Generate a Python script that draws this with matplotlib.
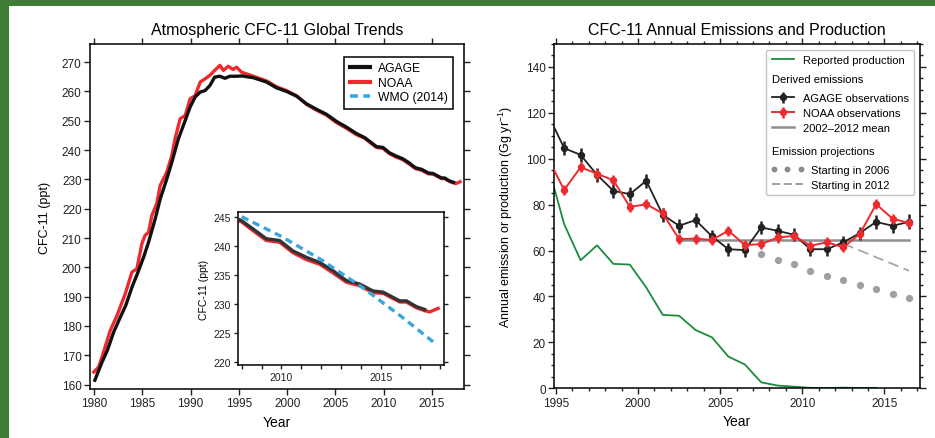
import numpy as np
import matplotlib.pyplot as plt
from matplotlib.lines import Line2D
from matplotlib.patches import Rectangle
from matplotlib.legend_handler import HandlerLine2D
from matplotlib.ticker import MultipleLocator

plt.rcParams['font.family'] = ['Liberation Sans', 'DejaVu Sans']
plt.rcParams['mathtext.fontset'] = 'custom'
plt.rcParams['mathtext.rm'] = 'Liberation Sans'
plt.rcParams['mathtext.default'] = 'regular'

# ---- left panel: global mean CFC-11 mole fraction (ppt) ----
agage_year = [1980.1, 1980.85, 1981.4, 1982.06, 1982.75, 1983.3, 1983.95, 1984.57,
              1985.15, 1985.66, 1986.35, 1986.87, 1987.55, 1988.07, 1988.75, 1989.45,
              1989.96, 1990.48, 1991.0, 1991.5, 1992.0, 1992.5, 1993.05, 1993.56,
              1994.08, 1994.76, 1995.3, 1996.5, 1997.88, 1998.9, 1999.95, 2000.98,
              2002.0, 2003.05, 2004.08, 2005.1, 2006.16, 2007.2, 2008.0, 2008.57,
              2009.24, 2009.91, 2010.58, 2011.26, 2011.93, 2012.6, 2012.94, 2013.27,
              2013.94, 2014.61, 2015.12, 2015.62, 2015.96, 2016.29, 2016.8, 2017.22]
agage_ppt = [161.5, 167.7, 171.7, 178.0, 183.1, 187.0, 193.3, 198.4,
             203.5, 208.6, 216.6, 223.4, 230.2, 235.9, 243.9, 250.1,
             254.7, 258.1, 259.8, 260.3, 262.0, 264.9, 265.2, 264.5,
             265.2, 265.2, 265.3, 264.7, 263.2, 261.25, 260.0, 258.4,
             255.8, 253.9, 252.2, 249.8, 247.8, 245.6, 244.3, 242.9,
             241.2, 240.9, 239.1, 238.0, 237.1, 235.7, 234.8, 234.0,
             233.4, 232.2, 232.0, 231.1, 230.5, 230.5, 229.5, 229.0]

noaa_year = [1980.0, 1980.5, 1981.0, 1981.7, 1982.4, 1983.25, 1983.94, 1984.45,
             1984.97, 1985.3, 1985.66, 1986.0, 1986.5, 1986.87, 1987.55, 1988.07,
             1988.4, 1988.93, 1989.45, 1989.96, 1990.48, 1991.0, 1991.5, 1992.0,
             1992.5, 1993.05, 1993.4, 1993.9, 1994.4, 1994.76, 1995.27, 1996.5,
             1997.88, 1998.9, 1999.95, 2000.98, 2002.0, 2003.05, 2004.08, 2005.1,
             2006.16, 2007.2, 2008.0, 2008.57, 2009.24, 2009.91, 2010.58, 2011.26,
             2011.93, 2012.6, 2012.94, 2013.27, 2013.94, 2014.61, 2015.12, 2015.62,
             2015.96, 2016.29, 2016.8, 2017.22, 2017.47, 2017.89]
noaa_ppt = [164.3, 166.0, 171.1, 178.5, 183.6, 191.0, 198.4, 199.5,
            208.1, 210.9, 212.0, 217.7, 221.7, 228.0, 232.5, 238.2,
            243.9, 250.7, 251.8, 257.5, 258.6, 263.2, 264.3, 265.5,
            267.2, 268.9, 267.2, 268.6, 267.5, 268.3, 266.6, 265.2,
            263.6, 261.6, 260.3, 258.5, 255.6, 253.6, 251.9, 249.4,
            247.4, 245.2, 244.1, 242.6, 240.9, 240.6, 238.8, 237.6,
            236.8, 235.3, 234.5, 233.7, 233.1, 231.9, 231.8, 230.9,
            230.3, 230.3, 229.3, 228.8, 228.6, 229.2]

wmo_year = [2008.0, 2010.0, 2012.0, 2014.0, 2016.0, 2017.8]
wmo_ppt = [245.0, 241.6, 237.6, 233.0, 227.9, 223.0]

# ---- right panel: emissions and production (Gg/yr) ----
emis_year = [1994.5 + i for i in range(23)]
agage_emis = [119.5, 104.6, 101.7, 93.0, 86.0, 84.6, 90.4, 75.6, 70.8, 73.3, 66.2, 60.6,
              60.2, 70.1, 68.6, 66.9, 60.6, 60.6, 63.6, 67.6, 72.5, 70.8, 72.5]
agage_err = [3.0, 3.0, 3.0, 3.0, 3.0, 3.0, 3.0, 3.0, 3.0, 3.0, 2.8, 2.8,
             2.8, 2.8, 2.8, 2.8, 2.8, 2.8, 2.8, 2.8, 3.2, 3.2, 3.3]
noaa_emis = [100.5, 86.4, 96.3, 93.5, 90.6, 79.0, 80.2, 76.2, 65.0, 65.2, 64.6, 68.7,
             62.4, 62.8, 65.7, 66.4, 62.1, 63.6, 61.4, 67.2, 80.2, 73.9, 72.0]
noaa_err = [2.2] * 23

prod_year = [1994.5 + i for i in range(21)]
prod_gg = [97.4, 71.5, 55.8, 62.3, 54.2, 53.9, 43.9, 32.0, 31.6, 25.4, 22.2, 13.8,
           10.4, 2.6, 1.2, 0.7, 0.2, 0.1, 0.3, 0.1, 0.2]

mean_years = [2002.5, 2016.5]
mean_value = 64.7

proj2006_year = [2007.5 + i for i in range(10)]
proj2006_gg = [58.5, 56.0, 54.0, 51.3, 49.0, 47.1, 45.0, 43.1, 41.2, 39.5]
proj2012_year = [2012.5, 2016.5]
proj2012_gg = [63.0, 51.2]

W, H = 935, 439
fig = plt.figure(figsize=(W / 100, H / 100), dpi=100)
fig.patch.set_facecolor('#3f7d36')
fig.add_artist(Rectangle((9 / W, 0), 1, (H - 7) / H, transform=fig.transFigure,
                         facecolor='white', edgecolor='none', zorder=-10))


def px_axes(x0, y0, x1, y1):
    return fig.add_axes([x0 / W, 1 - y1 / H, (x1 - x0) / W, (y1 - y0) / H])


def style_axes(ax, lw=1.1):
    for s in ax.spines.values():
        s.set_linewidth(lw)
    ax.tick_params(which='both', direction='out', width=1.0, colors='#222222')


class WideHandler(HandlerLine2D):
    # legend handle drawn a bit longer than the others
    def __init__(self, extra, **kw):
        super().__init__(**kw)
        self.extra = extra

    def create_artists(self, legend, orig_handle, xdescent, ydescent, width, height,
                       fontsize, trans):
        return super().create_artists(legend, orig_handle, xdescent, ydescent,
                                      width + self.extra, height, fontsize, trans)


red = '#ee2a2f'
black = '#111111'

# ---------------- left panel ----------------
ax1 = px_axes(90, 45, 464, 390)
ax1.plot(noaa_year, noaa_ppt, color=red, lw=2.4, zorder=2)
ax1.plot(agage_year, agage_ppt, color=black, lw=2.4, zorder=3)
ax1.set_xlim(1979.6, 2018.3)
ax1.set_ylim(158.5, 276.2)
ax1.xaxis.set_major_locator(MultipleLocator(5))
ax1.yaxis.set_major_locator(MultipleLocator(10))
style_axes(ax1)
ax1.tick_params(top=True, right=True, length=4, labelsize=8.5, pad=2)
ax1.set_xlabel('Year', fontsize=10, labelpad=4)
ax1.set_ylabel('CFC-11 (ppt)', fontsize=9, labelpad=8)
ax1.set_title('Atmospheric CFC-11 Global Trends', fontsize=11.5, pad=7)

# inset
axi = px_axes(237.7, 213.3, 444.3, 365.7)
axi.plot(noaa_year, noaa_ppt, color=red, lw=2.4, zorder=2)
axi.plot(agage_year, agage_ppt, color='#333333', lw=2.4, zorder=3)
axi.plot(wmo_year, wmo_ppt, color='#3aa6dd', lw=2.4, linestyle=(0, (2.2, 1.5)), zorder=4)
axi.set_xlim(2007.8, 2018.2)
axi.set_ylim(219.5, 245.76)
axi.xaxis.set_major_locator(MultipleLocator(5))
axi.xaxis.set_minor_locator(MultipleLocator(1))
axi.yaxis.set_major_locator(MultipleLocator(5))
style_axes(axi)
axi.tick_params(which='both', right=True, length=3, labelsize=7.5, pad=2)
axi.set_ylabel('CFC-11 (ppt)', fontsize=7.5, labelpad=3)

h_agage1 = Line2D([], [], color=black, lw=3, label='AGAGE')
h_noaa1 = Line2D([], [], color=red, lw=3, label='NOAA')
h_wmo1 = Line2D([], [], color='#3aa6dd', lw=2.6, linestyle=(0, (2.2, 1.5)), label='WMO (2014)')
leg1 = ax1.legend(handles=[h_agage1, h_noaa1, h_wmo1], loc='upper right', fontsize=8.7,
                  bbox_to_anchor=(1 - 11 / 374, 1 - 13 / 345), borderaxespad=0,
                  fancybox=False, edgecolor='black', framealpha=1,
                  handlelength=1.7, handletextpad=0.6, borderpad=0.45, labelspacing=0.2)
leg1.get_frame().set_linewidth(1.1)

# ---------------- right panel ----------------
ax2 = px_axes(554, 45, 920, 389.3)
l_prod, = ax2.plot(prod_year, prod_gg, color='#1b8c3e', lw=1.3, zorder=1,
                   label='Reported production')
l_mean, = ax2.plot(mean_years, [mean_value, mean_value], color='#8e8e8e', lw=1.8,
                   zorder=1.5, label='2002\u20132012 mean')
ax2.plot(proj2006_year, proj2006_gg, linestyle='none', marker='o', ms=4.2,
         color='#a0a0a0', zorder=1.5)
ax2.plot(proj2012_year, proj2012_gg, color='#a8a8a8', lw=1.3,
         linestyle=(0, (6, 3)), zorder=1.5)
e_agage = ax2.errorbar(emis_year, agage_emis, yerr=agage_err, color='#222222', lw=1.3,
                       marker='o', ms=4.3, elinewidth=1.8, capsize=0, zorder=3,
                       label='AGAGE observations')
e_noaa = ax2.errorbar(emis_year, noaa_emis, yerr=noaa_err, color=red, lw=1.4,
                      marker='o', ms=4.3, elinewidth=1.8, capsize=0, zorder=4,
                      label='NOAA observations')
ax2.set_xlim(1994.88, 2017.17)
ax2.set_ylim(0, 150)
ax2.xaxis.set_major_locator(MultipleLocator(5))
ax2.xaxis.set_minor_locator(MultipleLocator(1))
ax2.yaxis.set_minor_locator(MultipleLocator(5))
ax2.set_yticks(np.arange(0, 141, 20))
style_axes(ax2)
ax2.tick_params(which='both', top=True, right=True, labelsize=8.5, pad=2)
ax2.tick_params(which='major', length=4)
ax2.tick_params(which='minor', length=2.5)
ax2.set_xlabel('Year', fontsize=10, labelpad=4)
ax2.set_ylabel('Annual emission or production (Gg yr$^{-1}$)', fontsize=9, labelpad=8)
ax2.set_title('CFC-11 Annual Emissions and Production', fontsize=11.5, pad=7)

hdr1 = Line2D([], [], linestyle='none')
hdr2 = Line2D([], [], linestyle='none')
h_p06 = Line2D([], [], linestyle='none', marker='o', ms=3.2, color='#8a8a8a')
h_p12 = Line2D([], [], color='#9a9a9a', lw=1.3, linestyle=(0, (4.5, 2)))
handles = [l_prod, hdr1, e_agage, e_noaa, l_mean, hdr2, h_p06, h_p12]
labels = ['Reported production', '\nDerived emissions\n', 'AGAGE observations',
          'NOAA observations', '2002\u20132012 mean', '\n\nEmission projections\n',
          'Starting in 2006', 'Starting in 2012']
hl, hp, lfs = 2.0, 0.8, 8
leg2 = ax2.legend(handles=handles, labels=labels, loc='upper right', fontsize=lfs,
                  handlelength=hl, handletextpad=hp, borderaxespad=0.5, borderpad=0.5,
                  labelspacing=0.45, framealpha=1, edgecolor='#c4c4c4',
                  handler_map={h_p06: WideHandler(6.5, numpoints=3, marker_pad=0.2),
                               h_p12: WideHandler(6.5)})
leg2.get_frame().set_linewidth(1.0)
shift = (hl + hp) * lfs * fig.dpi / 72
for t in leg2.get_texts():
    s = t.get_text().strip()
    if s in ('Derived emissions', 'Emission projections'):
        t.set_x(-shift)
        t.set_linespacing(0.24)
    elif s.startswith('Starting'):
        t.set_x(8)

fig.savefig('out.png', dpi=100, facecolor=fig.get_facecolor())
